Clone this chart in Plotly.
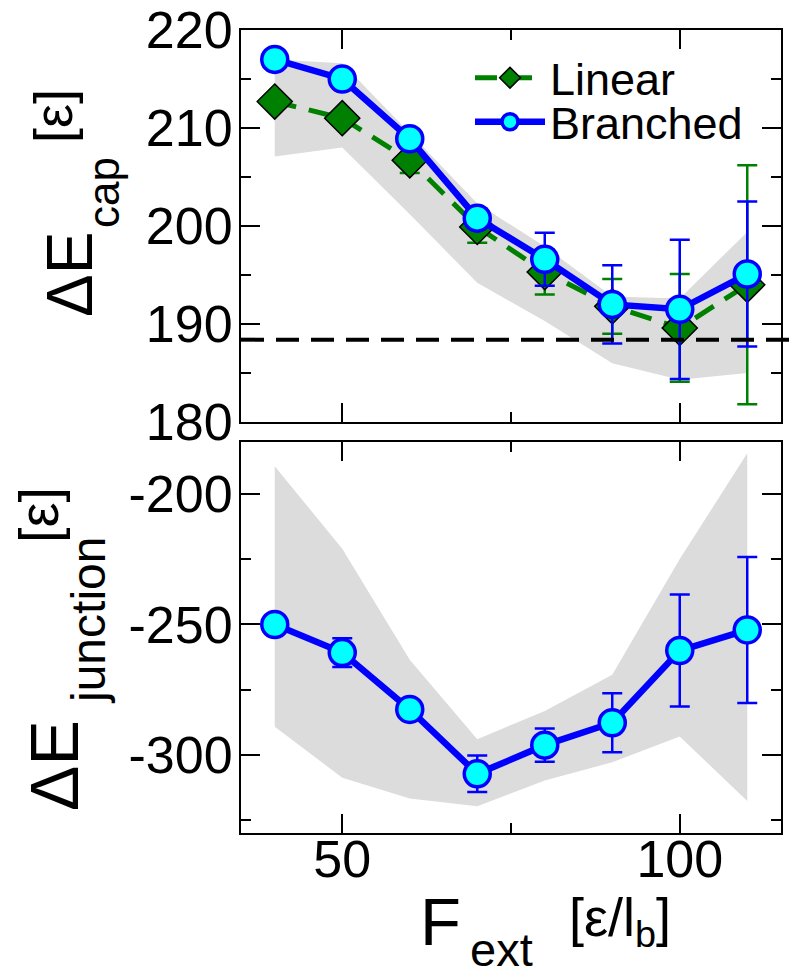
import plotly.graph_objects as go

# ---------------- data ----------------
F_ext = [40, 50, 60, 70, 80, 90, 100, 110]

cap_linear = [212.7, 211.0, 206.7, 199.9, 195.3, 191.8, 189.6, 194.0]
cap_linear_err = [0.4, 0.5, 1.3, 1.6, 2.3, 2.8, 5.5, 12.2]
cap_branched = [217.0, 215.0, 208.9, 200.8, 196.6, 192.0, 191.5, 195.1]
cap_branched_err = [0.4, 0.5, 0.6, 1.0, 2.7, 4.0, 7.1, 7.4]
cap_band_upper = [217.0, 216.6, 209.5, 202.3, 197.9, 192.8, 192.6, 199.4]
cap_band_lower = [207.1, 208.0, 201.2, 194.2, 190.3, 186.0, 184.3, 185.0]
cap_reference = 188.4

junc_branched = [-250.0, -260.8, -282.6, -307.3, -296.3, -287.7, -260.0, -252.1]
junc_branched_err = [1.5, 5.5, 3.0, 7.0, 6.4, 11.3, 21.5, 28.0]
junc_band_upper = [-189.3, -221.0, -263.5, -294.0, -283.2, -269.3, -224.9, -184.3]
junc_band_lower = [-289.2, -308.8, -316.8, -319.7, -309.9, -302.9, -293.0, -317.7]

x_range = [35, 115]
x_ticks = [50, 100]
x_ticklabels = ["50", "100"]
cap_range = [180, 220]
cap_ticks = [180, 190, 200, 210, 220]
cap_ticklabels = ["180", "190", "200", "210", "220"]
junc_range = [-330, -180]
junc_ticks = [-300, -250, -200]
junc_ticklabels = ["-300", "-250", "-200"]

# ---------------- layout geometry ----------------
W, H = 796, 974
ML, MR, MT, MB = 241, 15, 30, 141
PW, PH = W - ML - MR, H - MT - MB
top_dom = [(H - MB - 422) / PH, 1.0]
bot_dom = [0.0, (H - MB - 442) / PH]

def px(x):
    return (x - ML) / PW

def py(y):
    return (H - MB - y) / PH

BAND = "#dcdcdc"
BLUE = "#0000ff"
CYAN = "#00ffff"
GREEN = "#008000"
FONT = "Liberation Sans"

fig = go.Figure()

def band(xs, lo, hi, xa, ya):
    fig.add_trace(go.Scatter(x=xs, y=lo, mode="lines", line=dict(width=0, color=BAND),
                             xaxis=xa, yaxis=ya, showlegend=False, hoverinfo="skip"))
    fig.add_trace(go.Scatter(x=xs, y=hi, mode="lines", line=dict(width=0, color=BAND),
                             fill="tonexty", fillcolor=BAND,
                             xaxis=xa, yaxis=ya, showlegend=False, hoverinfo="skip"))

# top panel
band(F_ext, cap_band_lower, cap_band_upper, "x2", "y2")
fig.add_trace(go.Scatter(
    x=F_ext, y=cap_linear, mode="lines+markers", name="Linear",
    line=dict(color=GREEN, width=5, dash="22px,13px"),
    marker=dict(symbol="diamond", size=27, color=GREEN, line=dict(color="black", width=1.5)),
    error_y=dict(type="data", array=cap_linear_err, color=GREEN, thickness=2.5, width=10),
    xaxis="x2", yaxis="y2", legend="legend"))
fig.add_trace(go.Scatter(
    x=F_ext, y=cap_branched, mode="lines+markers", name="Branched",
    line=dict(color=BLUE, width=6.5),
    marker=dict(symbol="circle", size=26, color=CYAN, line=dict(color=BLUE, width=3.5)),
    error_y=dict(type="data", array=cap_branched_err, color=BLUE, thickness=2.5, width=10),
    xaxis="x2", yaxis="y2", legend="legend2"))

# bottom panel
band(F_ext, junc_band_lower, junc_band_upper, "x", "y")
fig.add_trace(go.Scatter(
    x=F_ext, y=junc_branched, mode="lines+markers", showlegend=False,
    line=dict(color=BLUE, width=6.5),
    marker=dict(symbol="circle", size=26, color=CYAN, line=dict(color=BLUE, width=3.5)),
    error_y=dict(type="data", array=junc_branched_err, color=BLUE, thickness=2.5, width=10),
    xaxis="x", yaxis="y"))

# reference dashed line (extends past right frame)
ref_y = top_dom[0] + (cap_reference - cap_range[0]) / (cap_range[1] - cap_range[0]) * (top_dom[1] - top_dom[0])
fig.add_shape(type="line", xref="paper", yref="paper", x0=0, x1=px(W), y0=ref_y, y1=ref_y,
              line=dict(color="black", width=4, dash="23px,12px"), layer="above")

axis_common = dict(
    showline=True, linecolor="black", linewidth=2, mirror="ticks",
    ticks="inside", ticklen=19, tickwidth=2, tickcolor="black",
    showgrid=False, zeroline=False,
    tickfont=dict(family=FONT, size=52, color="black"),
)
def minor(d):
    return dict(dtick=d, tick0=0, ticks="inside", ticklen=10, tickwidth=2, tickcolor="black")

fig.update_layout(
    width=W, height=H,
    margin=dict(l=ML, r=MR, t=MT, b=MB, autoexpand=False),
    paper_bgcolor="white", plot_bgcolor="white",
    font=dict(family=FONT, color="black"),
    xaxis=dict(range=x_range, domain=[0, 1], anchor="y", tickmode="array",
               tickvals=x_ticks, ticktext=x_ticklabels, minor=minor(25),
               ticklabelstandoff=-20, **axis_common),
    xaxis2=dict(range=x_range, domain=[0, 1], anchor="y2", matches="x", tickmode="array",
                tickvals=x_ticks, ticktext=x_ticklabels, showticklabels=False, minor=minor(25),
                **axis_common),
    yaxis=dict(range=junc_range, domain=bot_dom, anchor="x", tickmode="array",
               tickvals=junc_ticks, ticktext=junc_ticklabels, minor=minor(25),
               ticklabelstandoff=-4, **axis_common),
    yaxis2=dict(range=cap_range, domain=top_dom, anchor="x2", tickmode="array",
                tickvals=cap_ticks, ticktext=cap_ticklabels, minor=minor(5),
                ticklabelstandoff=-4, **axis_common),
    legend=dict(x=px(470), y=py(78), xanchor="left", yanchor="middle",
                bgcolor="rgba(0,0,0,0)", font=dict(family=FONT, size=45, color="black"),
                itemwidth=70, borderwidth=0),
    legend2=dict(x=px(470), y=py(122), xanchor="left", yanchor="middle",
                 bgcolor="rgba(0,0,0,0)", font=dict(family=FONT, size=45, color="black"),
                 itemwidth=70, borderwidth=0),
    showlegend=True,
)

def label(text, x, y, size, angle=0):
    fig.add_annotation(text=text, x=px(x), y=py(y), xref="paper", yref="paper",
                       xanchor="center", yanchor="middle", showarrow=False, textangle=angle,
                       font=dict(family=FONT, size=size, color="black"))

# top y title
label("ΔE", 70, 275, 64, -90)
label("cap", 103, 193, 44, -90)
label("[ε]", 53, 116, 54, -90)
# bottom y title
label("ΔE", 54, 766, 68, -90)
label("junction", 88, 621, 48, -90)
label("[ε]", 38, 515, 56, -90)
# x title
label("F", 440, 921, 67)
label("ext", 501, 950, 47)
label("[ε/l<sub>b</sub>]", 620, 921, 54)

fig.write_html("out.html")
